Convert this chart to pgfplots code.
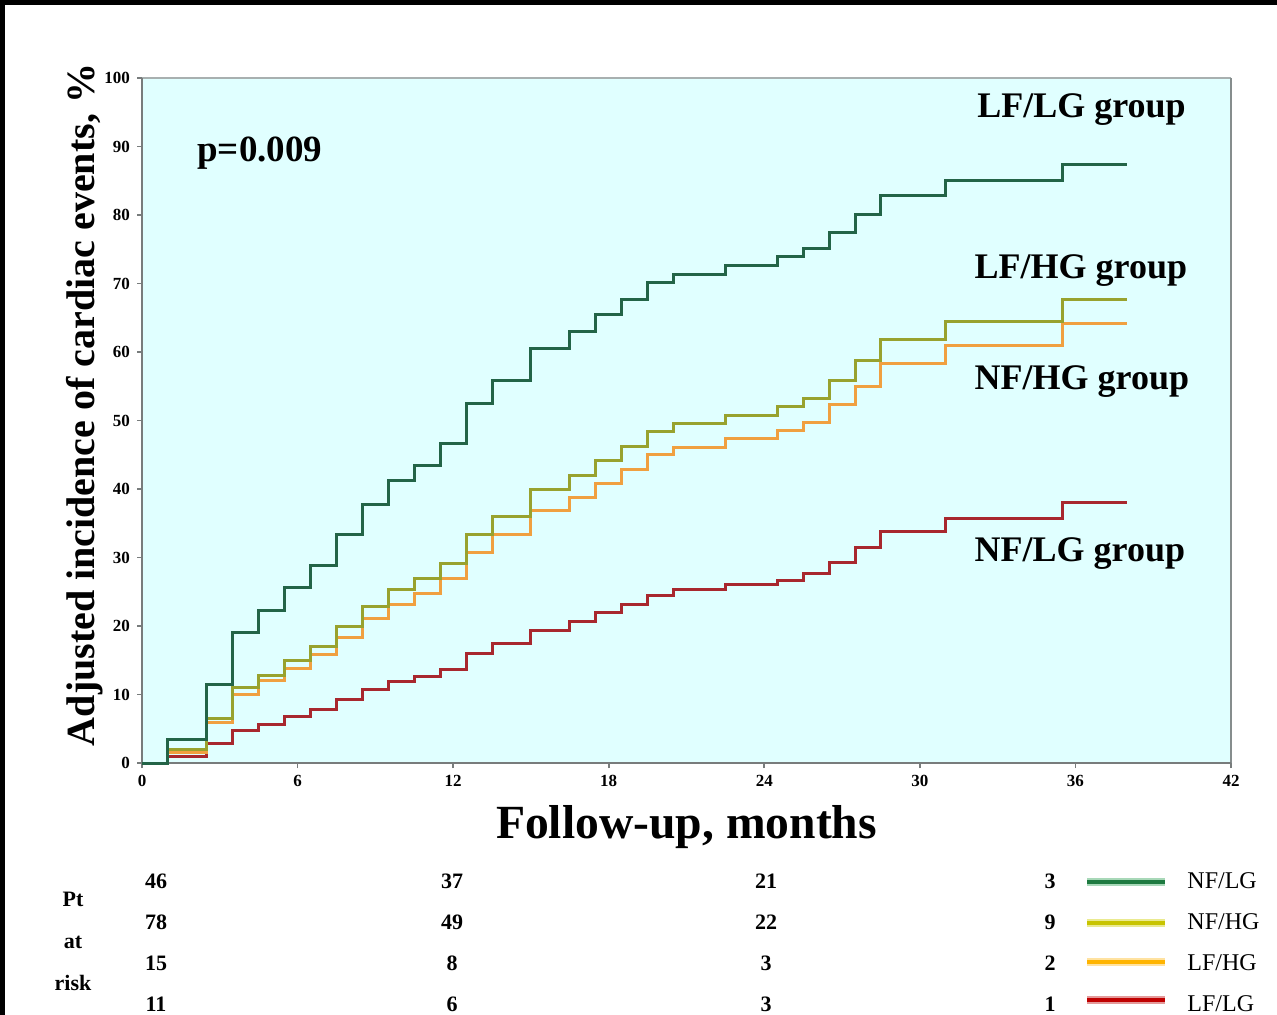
\documentclass[border=0pt]{standalone}
\usepackage{pgfplots}
\pgfplotsset{compat=1.18}
\usepackage{fontspec}
\setmainfont{Liberation Serif}
\definecolor{bgc}{HTML}{E0FFFF}
\definecolor{cgreen}{HTML}{236447}
\definecolor{colive}{HTML}{98A22E}
\definecolor{corange}{HTML}{F0A040}
\definecolor{cred}{HTML}{A8282E}
\definecolor{axgray}{HTML}{787C7C}
\definecolor{axlight}{HTML}{A8B0B0}
\definecolor{lgreen}{HTML}{1E7A40}
\definecolor{lgreenh}{HTML}{A8D8B8}
\definecolor{lolive}{HTML}{C8C400}
\definecolor{loliveh}{HTML}{EAEA90}
\definecolor{lorange}{HTML}{FFB400}
\definecolor{lorangeh}{HTML}{FFE2A0}
\definecolor{lred}{HTML}{C00000}
\definecolor{lredh}{HTML}{E49A9A}
\begin{document}
\begin{tikzpicture}
\path[use as bounding box] (0,0) rectangle (638.5pt,-507.5pt);
\fill[white] (0,0) rectangle (638.5pt,-507.5pt);
\fill[black] (0,0) rectangle (638.5pt,-2.5pt);
\fill[black] (0,0) rectangle (2.5pt,-507.5pt);
\begin{axis}[
  at={(71pt,-381.5pt)}, anchor=south west,
  scale only axis, width=544.5pt, height=342.5pt,
  xmin=0, xmax=42, ymin=0, ymax=100,
  xtick={0,6,...,42}, ytick={0,10,...,100},
  xtick pos=bottom, ytick pos=left, tick align=outside,
  major tick length=2.5pt,
  every tick/.style={axgray, line width=0.8pt},
  axis background/.style={fill=bgc},
  axis line style={draw=none},
  tick label style={font=\bfseries\fontsize{8.5}{9}\selectfont},
  /pgf/number format/assume math mode=true,
  clip=false,
  xlabel={Follow-up, months},
  xlabel style={at={(axis description cs:0.5,0)}, anchor=base, yshift=-37.5pt, font=\bfseries\fontsize{23.8}{26}\selectfont},
  ylabel={Adjusted incidence of cardiac events, \%},
  ylabel style={at={(axis description cs:-0.0432,0.5226)}, anchor=base, font=\bfseries\fontsize{20}{22}\selectfont},
  const plot,
]
\draw[axlight, line width=1.4pt] (rel axis cs:0,1) -- (rel axis cs:1,1);
\draw[axlight!80!black, line width=1.4pt] (rel axis cs:1,1) -- (rel axis cs:1,0);
\draw[axgray, line width=1.4pt] (rel axis cs:0,1) -- (rel axis cs:0,0) -- (rel axis cs:1,0);
\addplot[cred, line width=1.5pt] coordinates {(0,0) (1,0.9) (2.5,2.9) (3.5,4.7) (4.5,5.6) (5.5,6.8) (6.5,7.8) (7.5,9.2) (8.5,10.7) (9.5,11.9) (10.5,12.6) (11.5,13.7) (12.5,16.0) (13.5,17.5) (15,19.4) (16.5,20.6) (17.5,21.9) (18.5,23.1) (19.5,24.4) (20.5,25.4) (22.5,26.1) (24.5,26.7) (25.5,27.6) (26.5,29.3) (27.5,31.5) (28.5,33.8) (31,35.7) (35.5,38.1) (38,38.1)};
\addplot[corange, line width=1.5pt] coordinates {(0,0) (1,1.5) (2.5,5.9) (3.5,10.0) (4.5,12.0) (5.5,13.8) (6.5,15.8) (7.5,18.3) (8.5,21.1) (9.5,23.2) (10.5,24.7) (11.5,26.9) (12.5,30.8) (13.5,33.4) (15,36.9) (16.5,38.8) (17.5,40.8) (18.5,42.9) (19.5,45.0) (20.5,46.1) (22.5,47.3) (24.5,48.6) (25.5,49.7) (26.5,52.3) (27.5,55.0) (28.5,58.3) (31,61.0) (35.5,64.1) (38,64.1)};
\addplot[colive, line width=1.5pt] coordinates {(0,0) (1,1.9) (2.5,6.5) (3.5,11.0) (4.5,12.8) (5.5,15.0) (6.5,17.0) (7.5,20.0) (8.5,22.9) (9.5,25.3) (10.5,26.9) (11.5,29.1) (12.5,33.4) (13.5,36.0) (15,39.9) (16.5,41.9) (17.5,44.1) (18.5,46.2) (19.5,48.4) (20.5,49.6) (22.5,50.8) (24.5,52.0) (25.5,53.2) (26.5,55.8) (27.5,58.8) (28.5,61.8) (31,64.4) (35.5,67.7) (38,67.7)};
\addplot[cgreen, line width=1.5pt] coordinates {(0,0) (1,3.4) (2.5,11.4) (3.5,19.1) (4.5,22.2) (5.5,25.6) (6.5,28.8) (7.5,33.4) (8.5,37.8) (9.5,41.3) (10.5,43.5) (11.5,46.7) (12.5,52.5) (13.5,55.9) (15,60.5) (16.5,63.0) (17.5,65.5) (18.5,67.7) (19.5,70.1) (20.5,71.3) (22.5,72.6) (24.5,73.9) (25.5,75.1) (26.5,77.5) (27.5,80.1) (28.5,82.9) (31,85.0) (35.5,87.4) (38,87.4)};
\node[anchor=base west, font=\bfseries\fontsize{18.5}{20}\selectfont, inner sep=0pt] at (axis cs:2.12,87.8) {p=0.009};
\node[anchor=base west, font=\bfseries\fontsize{18}{20}\selectfont, inner sep=0pt] at (axis cs:32.2,94.2) {LF/LG group};
\node[anchor=base west, font=\bfseries\fontsize{18}{20}\selectfont, inner sep=0pt] at (axis cs:32.1,70.7) {LF/HG group};
\node[anchor=base west, font=\bfseries\fontsize{18}{20}\selectfont, inner sep=0pt] at (axis cs:32.1,54.5) {NF/HG group};
\node[anchor=base west, font=\bfseries\fontsize{18}{20}\selectfont, inner sep=0pt] at (axis cs:32.1,29.4) {NF/LG group};
\end{axis}
\begin{scope}[x=0.5pt, y=-0.5pt, every node/.style={inner sep=0pt, font=\bfseries\fontsize{11}{12}\selectfont}]
\node[anchor=base] at (73,906) {Pt};
\node[anchor=base] at (73,948) {at};
\node[anchor=base] at (73,990) {risk};
\foreach \y/\a/\b/\c/\d in {888/46/37/21/3, 929/78/49/22/9, 970/15/8/3/2, 1011/11/6/3/1} {
  \node[anchor=base] at (156,\y) {\a};
  \node[anchor=base] at (452,\y) {\b};
  \node[anchor=base] at (766,\y) {\c};
  \node[anchor=base] at (1050,\y) {\d};
}
\draw[lgreenh, line width=4pt] (1087,882) -- (1165,882);
\draw[lgreen, line width=2pt] (1087,882) -- (1165,882);
\draw[loliveh, line width=4pt] (1087,923) -- (1165,923);
\draw[lolive, line width=2pt] (1087,923) -- (1165,923);
\draw[lorangeh, line width=4pt] (1087,962) -- (1165,962);
\draw[lorange, line width=2pt] (1087,962) -- (1165,962);
\draw[lredh, line width=4pt] (1087,1000) -- (1165,1000);
\draw[lred, line width=2pt] (1087,1000) -- (1165,1000);
\node[anchor=base west, font=\fontsize{12}{13}\selectfont] at (1187,888) {NF/LG};
\node[anchor=base west, font=\fontsize{12}{13}\selectfont] at (1187,929) {NF/HG};
\node[anchor=base west, font=\fontsize{12}{13}\selectfont] at (1187,970) {LF/HG};
\node[anchor=base west, font=\fontsize{12}{13}\selectfont] at (1187,1011) {LF/LG};
\end{scope}
\end{tikzpicture}
\end{document}
